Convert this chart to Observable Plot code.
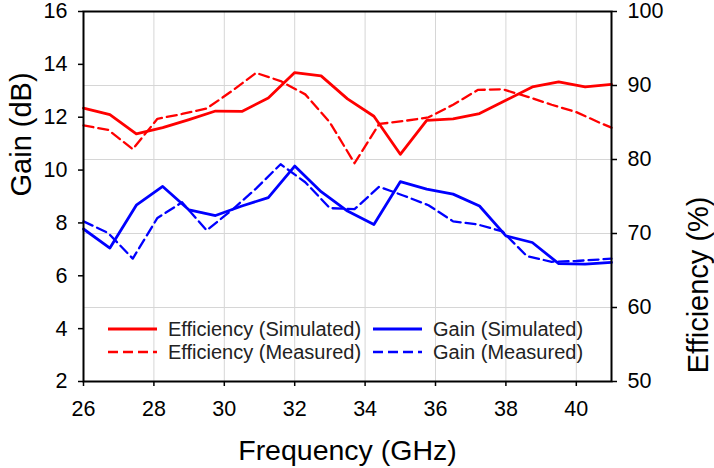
<!DOCTYPE html>
<html>
<head>
<meta charset="utf-8">
<script src="https://cdn.jsdelivr.net/npm/d3@7"></script>
<script src="https://cdn.jsdelivr.net/npm/@observablehq/plot@0.6"></script>
<style>
  html, body { margin: 0; padding: 0; background: #fff; }
  #wrap { position: relative; width: 714px; height: 468px; font-family: "Liberation Sans", Arial, sans-serif; }
  #legend { position: absolute; left: 0; top: 0; pointer-events: none; }
</style>
</head>
<body>
<div id="wrap"></div>
<script>
// ---- data ----
const freqSim = [26, 26.75, 27.5, 28.25, 29, 29.75, 30.5, 31.25, 32, 32.75, 33.5, 34.25, 35, 35.75, 36.5, 37.25, 38, 38.75, 39.5, 40.25, 41];
const effSim  = [86.95, 86.05, 83.45, 84.3, 85.4, 86.55, 86.5, 88.3, 91.75, 91.3, 88.2, 85.85, 80.7, 85.3, 85.5, 86.2, 88.0, 89.8, 90.5, 89.8, 90.15];
const gainSim = [7.77, 7.05, 8.67, 9.38, 8.49, 8.28, 8.64, 8.96, 10.15, 9.18, 8.45, 7.94, 9.56, 9.28, 9.09, 8.64, 7.51, 7.26, 6.46, 6.44, 6.51];

const freqMeas = [26, 26.7, 27.4, 28.1, 28.8, 29.5, 30.2, 30.9, 31.6, 32.3, 33.0, 33.7, 34.4, 35.1, 35.8, 36.5, 37.2, 37.9, 38.6, 39.3, 40.0, 40.7, 41];
const effMeas  = [84.6, 84.0, 81.4, 85.5, 86.15, 86.9, 89.2, 91.7, 90.6, 88.8, 85.0, 79.5, 84.8, 85.2, 85.7, 87.4, 89.4, 89.5, 88.5, 87.4, 86.4, 84.9, 84.3];
const gainMeas = [8.06, 7.62, 6.65, 8.19, 8.78, 7.72, 8.47, 9.3, 10.22, 9.54, 8.56, 8.52, 9.37, 9.03, 8.67, 8.06, 7.94, 7.68, 6.74, 6.53, 6.56, 6.62, 6.65];

const xTicks    = [26, 28, 30, 32, 34, 36, 38, 40];
const gainTicks = [2, 4, 6, 8, 10, 12, 14, 16];
const effTicks  = [50, 60, 70, 80, 90, 100];

const seriesNames = ["Efficiency (Simulated)", "Gain (Simulated)", "Efficiency (Measured)", "Gain (Measured)"];
const RED = "#ff0000", BLUE = "#0000ff";

// efficiency (50..100 %) mapped onto the gain axis (2..16 dB)
const effToGain = e => 2 + (e - 50) * (14 / 50);
const gainToEff = g => 50 + (g - 2) * (50 / 14);

const simTable  = freqSim.map((f, i) => ({f, eff: effToGain(effSim[i]), gain: gainSim[i]}));
const measTable = freqMeas.map((f, i) => ({f, eff: effToGain(effMeas[i]), gain: gainMeas[i]}));

const FONT = "Liberation Sans, Arial, sans-serif";

const chart = Plot.plot({
  width: 714,
  height: 468,
  marginTop: 11,
  marginBottom: 87,
  marginLeft: 83,
  marginRight: 103,
  x: {domain: [26, 41]},
  y: {domain: [2, 16]},
  style: {fontFamily: FONT, fontSize: "21px", color: "#000", background: "#fff", overflow: "visible"},
  marks: [
    Plot.gridX(xTicks.slice(1), {stroke: "#d6d6d6", strokeOpacity: 1, strokeWidth: 1}),
    Plot.gridY(effTicks.slice(1, -1).map(effToGain), {stroke: "#d6d6d6", strokeOpacity: 1, strokeWidth: 1}),
    Plot.line(measTable, {x: "f", y: "eff", stroke: RED, strokeWidth: 2.3, strokeDasharray: "10,5"}),
    Plot.line(measTable, {x: "f", y: "gain", stroke: BLUE, strokeWidth: 2.3, strokeDasharray: "10,5"}),
    Plot.line(simTable, {x: "f", y: "eff", stroke: RED, strokeWidth: 2.8}),
    Plot.line(simTable, {x: "f", y: "gain", stroke: BLUE, strokeWidth: 2.8}),
    Plot.frame({stroke: "#000", strokeWidth: 2}),
    Plot.axisX(xTicks, {tickSize: 5, tickPadding: 14, strokeWidth: 1.5, label: null, fontSize: 21.5}),
    Plot.axisY(gainTicks, {anchor: "left", tickSize: 5, tickPadding: 11, strokeWidth: 1.5, label: null, fontSize: 21.5}),
    Plot.axisY(effTicks.map(effToGain), {anchor: "right", tickSize: 5, tickPadding: 11, strokeWidth: 1.5, label: null, fontSize: 21.5,
      tickFormat: g => String(Math.round(gainToEff(g)))}),
    Plot.text(["Frequency (GHz)"], {frameAnchor: "bottom", lineAnchor: "top", dy: 58, fontSize: 28.5, fill: "#000"}),
    Plot.text(["Gain (dB)"], {frameAnchor: "left", rotate: -90, dx: -62, fontSize: 29, fill: "#000"}),
    Plot.text(["Efficiency (%)"], {frameAnchor: "right", rotate: -90, dx: 87, fontSize: 29, fill: "#000"})
  ]
});

const wrap = document.getElementById("wrap");
wrap.appendChild(chart);

// ---- legend (inside the plot area, lower left) ----
const legendItems = [
  {name: seriesNames[0], color: RED,  dash: null,   col: 0, row: 0},
  {name: seriesNames[2], color: RED,  dash: "10,5", col: 0, row: 1},
  {name: seriesNames[1], color: BLUE, dash: null,   col: 1, row: 0},
  {name: seriesNames[3], color: BLUE, dash: "10,5", col: 1, row: 1}
];
const colX = [108, 373];
const rowY = [329, 352];
const leg = d3.select(wrap).append("svg")
  .attr("id", "legend").attr("width", 714).attr("height", 468);
const g = leg.selectAll("g").data(legendItems).join("g")
  .attr("transform", d => `translate(${colX[d.col]},${rowY[d.row]})`);
g.append("line").attr("x1", 0).attr("x2", 49).attr("y1", 0).attr("y2", 0)
  .attr("stroke", d => d.color)
  .attr("stroke-width", d => d.dash ? 2.3 : 2.8)
  .attr("stroke-dasharray", d => d.dash);
g.append("text").attr("x", 60).attr("y", 0).attr("dy", "0.35em")
  .attr("font-family", FONT).attr("font-size", 20).attr("fill", "#222")
  .text(d => d.name);
</script>
</body>
</html>
